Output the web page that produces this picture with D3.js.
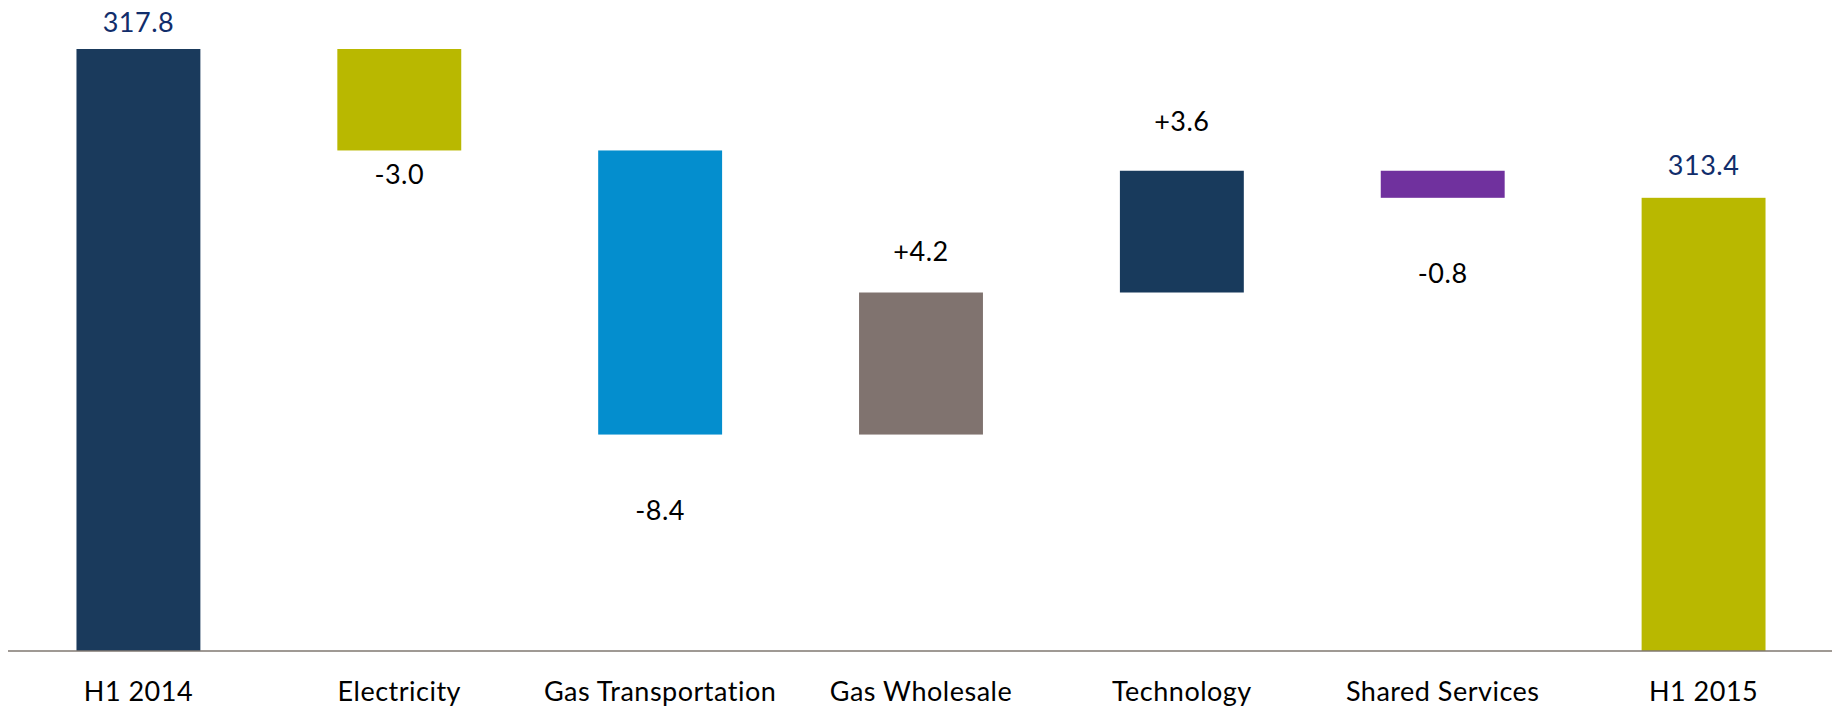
<!DOCTYPE html>
<html>
<head>
<meta charset="utf-8">
<script src="https://cdn.jsdelivr.net/npm/d3@7"></script>
<style>
  html, body { margin: 0; padding: 0; background: #ffffff; }
  svg { display: block; }
  text { font-family: Lato, "Open Sans", sans-serif; }
</style>
</head>
<body>
<svg id="chart" width="1832" height="710"></svg>
<script>
// ---- data ----
const categories = ["H1 2014", "Electricity", "Gas Transportation", "Gas Wholesale", "Technology", "Shared Services", "H1 2015"];
const kinds      = ["total", "delta", "delta", "delta", "delta", "delta", "total"];
const values     = [317.8, -3.0, -8.4, 4.2, 3.6, -0.8, 313.4];
const labels     = ["317.8", "-3.0", "-8.4", "+4.2", "+3.6", "-0.8", "313.4"];
const axisBase   = 300;

// ---- styles / layout ----
const barColors  = ["#1A3A5C", "#B9B800", "#048ECE", "#80736F", "#183A5C", "#70319E", "#B9B800"];
const labelColors = ["#112D6B", "#000000", "#000000", "#000000", "#000000", "#000000", "#112D6B"];
const labelGap   = [16.7, 33.6, 85, 32, 39.3, 85.3, 22.6]; // px between bar edge and label baseline

const svg = d3.select("#chart");

// running totals
let running = 0;
const bars = categories.map((c, i) => {
  let lo, hi;
  if (kinds[i] === "total") {
    lo = axisBase; hi = values[i]; running = values[i];
  } else {
    const start = running, end = running + values[i];
    lo = Math.min(start, end); hi = Math.max(start, end); running = end;
  }
  return { cat: c, lo, hi, v: values[i], kind: kinds[i], i };
});

const x = d3.scaleBand()
  .domain(categories)
  .range([8, 1834])
  .paddingInner(0.525)
  .paddingOuter(0.2625);

const y = d3.scaleLinear()
  .domain([axisBase, 317.8])
  .range([651, 49]);

svg.append("g").selectAll("rect")
  .data(bars)
  .join("rect")
  .attr("x", d => x(d.cat))
  .attr("width", x.bandwidth())
  .attr("y", d => y(d.hi))
  .attr("height", d => y(d.lo) - y(d.hi))
  .attr("fill", d => barColors[d.i]);

// baseline axis
const xAxis = d3.axisBottom(x).tickSize(0).tickPadding(0);
const gx = svg.append("g").attr("transform", `translate(0,${y(axisBase)})`).call(xAxis);
gx.select(".domain").remove();
gx.selectAll("text")
  .attr("y", 50)
  .attr("dy", 0)
  .attr("fill", "#000")
  .style("font-size", "27px")
  .style("letter-spacing", "0.5px")
  .style("font-family", "Lato, 'Open Sans', sans-serif");
svg.append("line")
  .attr("x1", 8).attr("x2", 1832)
  .attr("y1", y(axisBase)).attr("y2", y(axisBase))
  .attr("stroke", "#7F7770")
  .attr("stroke-width", 1.5);

// value labels
svg.append("g").selectAll("text")
  .data(bars)
  .join("text")
  .attr("x", d => x(d.cat) + x.bandwidth() / 2)
  .attr("y", d => (d.v < 0 && d.kind === "delta") ? y(d.lo) + labelGap[d.i] : y(d.hi) - labelGap[d.i])
  .attr("text-anchor", "middle")
  .attr("fill", d => labelColors[d.i])
  .style("font-size", "27px")
  .style("letter-spacing", "0.5px")
  .text(d => labels[d.i]);
</script>
</body>
</html>
